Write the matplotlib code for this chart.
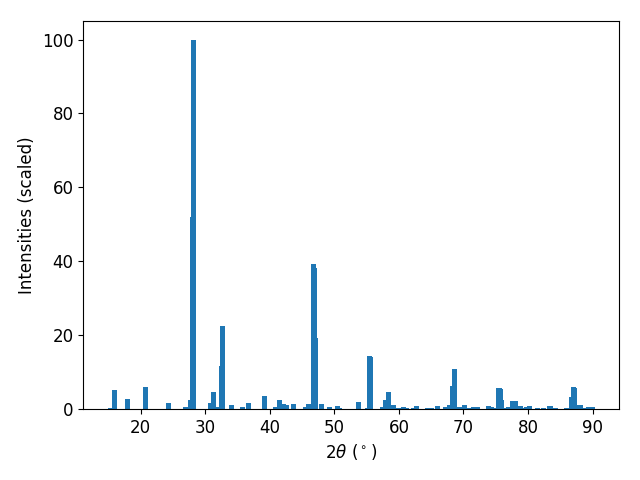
import matplotlib
matplotlib.use("Agg")
import matplotlib.pyplot as plt
import numpy as np

# peak positions (2theta, degrees) and scaled intensities
two_theta = [
    15.27, 16.0, 17.9, 20.8, 24.25, 27.0, 27.8, 28.05, 28.2,
    30.9, 31.3, 32.1, 32.5, 32.7, 34.05, 35.75, 36.65, 39.15,
    40.85, 41.5, 42.15, 42.6, 43.7, 45.6, 46.0, 46.72, 46.85, 47.02,
    47.95, 49.25, 50.5, 50.8, 53.75, 55.2, 55.5, 55.6, 57.4, 58.0,
    58.4, 59.2, 59.9, 60.75, 61.2, 62.3, 62.75, 64.4, 65.1, 65.95,
    67.2, 67.9, 68.35, 68.65, 69.35, 70.2, 70.9, 71.5, 72.2, 73.85,
    74.3, 74.7, 75.5, 75.75, 75.9, 76.4, 76.95, 77.6, 78.0, 78.75,
    79.3, 79.7, 80.2, 81.5, 82.4, 83.4, 84.3, 86.0, 86.8, 87.05,
    87.2, 88.05, 88.7, 89.4, 89.9,
]
intensity = [
    0.3, 5.1, 2.7, 6.0, 1.6, 0.5, 2.4, 52.0, 100.0,
    1.6, 4.5, 0.5, 11.6, 22.5, 1.1, 0.5, 1.6, 3.5,
    0.5, 2.4, 1.35, 1.1, 1.35, 0.5, 1.35, 39.3, 38.2, 19.2,
    1.35, 0.5, 0.8, 0.3, 1.9, 0.3, 14.4, 14.2, 0.5, 2.4,
    4.6, 1.1, 0.3, 0.5, 0.3, 0.3, 0.8, 0.3, 0.3, 0.8,
    0.5, 1.1, 6.2, 10.8, 0.5, 1.1, 0.3, 0.5, 0.5, 0.8,
    0.5, 0.3, 5.7, 5.4, 2.4, 0.3, 0.5, 2.2, 2.2, 0.8,
    0.3, 0.5, 0.8, 0.3, 0.3, 0.8, 0.3, 0.3, 3.2, 6.0,
    5.7, 1.1, 0.3, 0.5, 0.5,
]

fig, ax = plt.subplots(figsize=(6.4, 4.8), dpi=100)
ax.bar(two_theta, intensity)
ax.set_xlabel(r"$2\theta$ ($^\circ$)", fontsize=12)
ax.set_ylabel("Intensities (scaled)", fontsize=12)
ax.tick_params(labelsize=12)
# match the reference axes box
fig.subplots_adjust(left=0.13, right=0.967, bottom=0.148, top=0.956)
plt.savefig("out.png")
